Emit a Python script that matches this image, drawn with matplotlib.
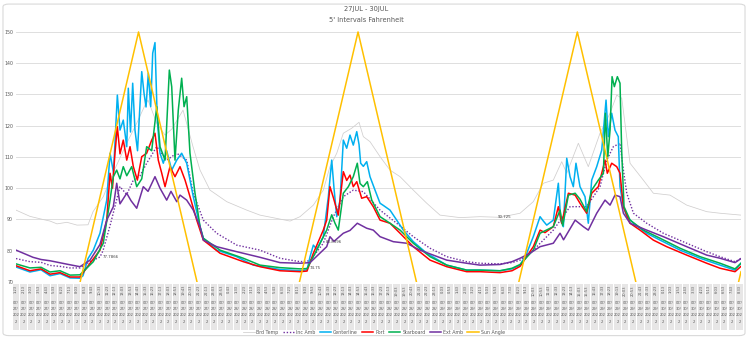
import matplotlib
matplotlib.use("Agg")
import matplotlib.pyplot as plt
import matplotlib.transforms as mtransforms
from matplotlib.patches import Rectangle, FancyBboxPatch
from datetime import datetime, timedelta

# hours since 27/07/2022 01:23 (5' logging)
brd_t = [0.00, 1.53, 2.95, 3.72, 4.49, 5.58, 6.68, 7.88, 8.43, 9.55, 10.62, 12.12, 13.21, 14.12, 14.45,
         15.40, 16.31, 17.07, 18.28, 19.37, 20.14, 21.23, 23.06, 25.25, 26.70, 29.99, 31.08, 32.54,
         33.63, 34.36, 35.10, 35.82, 36.74, 37.54, 38.01, 38.74, 39.84, 40.93, 42.03, 43.48, 44.95,
         46.40, 48.59, 50.78, 52.97, 55.16, 56.61, 57.71, 58.80, 59.72, 60.27, 61.54, 62.63, 63.91,
         65.01, 65.74, 66.29, 67.20, 68.65, 69.75, 71.57, 73.40, 75.59, 77.05, 79.34]
brd_v = [93.0, 91.0, 90.0, 89.5, 88.6, 89.1, 88.2, 88.3, 92.5, 97.3, 104.9, 114.4, 120.8, 126.6, 128.2,
         120.8, 117.0, 119.0, 125.0, 113.3, 105.8, 99.4, 95.7, 93.0, 91.4, 89.5, 90.9, 94.6,
         99.4, 106.9, 111.2, 117.6, 119.2, 121.1, 116.5, 114.9, 110.1, 105.8, 103.7, 99.4, 95.2,
         91.4, 90.6, 90.9, 90.7, 92.0, 95.7, 101.6, 102.6, 108.5, 104.8, 114.4, 106.9, 117.6,
         124.0, 129.8, 128.8, 108.0, 102.6, 98.4, 97.8, 94.6, 92.5, 92.0, 91.4]

inc_t = [0.00, 1.53, 2.74, 3.72, 4.82, 5.91, 7.00, 8.10, 9.19, 9.52, 10.29, 11.38, 12.12, 12.84, 13.57,
         14.30, 15.40, 16.49, 17.59, 18.68, 19.40, 20.50, 21.96, 24.15, 26.70, 28.89, 31.08, 32.18,
         33.63, 34.73, 35.82, 36.91, 38.01, 39.84, 41.66, 43.48, 45.31, 47.14, 49.32, 50.78, 52.97,
         54.28, 55.16, 56.61, 58.80, 60.63, 62.45, 63.91, 64.65, 65.37, 66.10, 66.47, 66.84, 67.57,
         69.02, 70.84, 73.40, 75.59, 77.05, 78.69, 79.34]
inc_v = [77.5, 76.5, 76.3, 75.3, 75.0, 74.5, 74.5, 76.5, 78.0, 80.0, 88.0, 100.5, 98.0, 102.6, 104.0,
         108.0, 113.3, 109.0, 111.2, 109.0, 98.4, 89.8, 85.6, 81.8, 80.2, 77.6, 76.5, 76.8,
         82.4, 90.9, 97.3, 99.4, 98.9, 93.0, 88.8, 84.5, 80.8, 78.1, 76.5, 76.0, 75.8,
         76.2, 77.0, 80.2, 86.6, 94.1, 94.1, 100.5, 109.0, 113.3, 114.4, 105.8, 98.4, 92.0,
         88.8, 85.6, 82.4, 79.7, 78.1, 76.5, 77.5]

cl_t = [0.00, 1.53, 2.74, 3.72, 4.82, 5.91, 7.00, 7.33, 7.88, 8.46, 9.19, 9.93, 10.29, 10.67, 11.09,
        11.38, 11.74, 12.12, 12.29, 12.53, 12.77, 13.02, 13.30, 13.76, 14.01, 14.23, 14.48, 14.74,
        14.96, 15.21, 15.46, 15.76, 16.12, 16.49, 17.04, 17.59, 18.13, 18.68, 19.40, 20.14, 20.50,
        21.96, 24.15, 25.97, 28.89, 31.08, 31.85, 32.18, 32.54, 32.91, 33.63, 34.18, 34.55, 34.80,
        35.10, 35.46, 35.82, 36.19, 36.55, 36.91, 37.29, 37.54, 37.72, 38.01, 38.38, 38.74, 39.29,
        39.84, 40.20, 40.93, 41.66, 42.39, 43.48, 44.95, 47.14, 49.32, 50.78, 52.97, 54.28, 55.16,
        55.89, 56.61, 57.35, 57.71, 58.08, 58.80, 59.35, 59.61, 59.90, 60.27, 60.63, 60.99, 61.28,
        61.72, 62.27, 62.63, 63.00, 63.55, 64.10, 64.57, 64.82, 65.19, 65.55, 65.91, 66.10, 66.47,
        66.84, 67.57, 69.02, 70.48, 72.67, 74.86, 77.05, 78.69, 79.34]
cl_v = [74.8, 73.2, 73.9, 72.0, 72.7, 71.3, 71.2, 72.0, 77.5, 80.2, 85.6, 96.2, 111.2, 105.0, 129.8,
        118.6, 121.8, 113.3, 132.0, 118.0, 133.6, 118.6, 112.0, 137.3, 130.4, 126.0, 136.8, 126.1,
        143.2, 146.6, 121.8, 111.2, 108.0, 112.0, 105.8, 109.0, 111.2, 108.0, 97.3, 87.7, 84.0,
        80.2, 78.1, 75.4, 74.0, 73.6, 73.9, 78.1, 81.8, 80.5, 84.5, 97.3, 109.0, 100.0,
        90.9, 96.2, 115.4, 112.8, 117.0, 113.8, 118.1, 114.0, 108.0, 107.0, 108.5, 103.7, 99.4,
        95.2, 94.5, 93.0, 89.8, 86.6, 82.9, 79.2, 75.4, 73.8, 73.8, 73.6, 74.2, 75.4,
        79.2, 84.5, 90.9, 89.5, 88.2, 89.8, 101.6, 89.8, 87.7, 109.6, 103.7, 100.5, 108.0,
        100.5, 97.3, 88.8, 102.6, 106.9, 112.2, 128.2, 116.5, 124.0, 118.6, 116.5, 100.5, 94.1,
        90.9, 88.8, 85.6, 83.4, 80.2, 77.6, 75.4, 73.8, 76.0]

port_t = [0.00, 1.53, 2.74, 3.72, 4.82, 5.91, 7.00, 8.10, 9.19, 9.93, 10.29, 10.56, 10.83, 11.09, 11.38,
          11.74, 12.12, 12.48, 12.84, 13.28, 13.76, 14.30, 14.85, 15.21, 15.57, 15.95, 16.31, 16.85,
          17.40, 17.95, 18.50, 19.04, 19.78, 20.50, 22.33, 24.88, 26.70, 28.89, 31.08, 31.85, 32.54,
          33.63, 34.00, 34.36, 34.73, 35.27, 35.82, 36.19, 36.55, 36.91, 37.29, 37.83, 38.38, 39.10,
          39.84, 40.93, 42.03, 43.48, 45.31, 47.14, 49.32, 50.78, 52.97, 54.28, 55.16, 56.61, 57.35,
          57.89, 58.80, 59.35, 59.72, 60.45, 61.19, 61.72, 62.45, 63.00, 63.73, 64.46, 64.71, 65.19,
          65.74, 66.10, 66.47, 67.20, 68.29, 69.75, 71.21, 73.40, 75.59, 77.05, 78.69, 79.34]
port_v = [75.2, 73.6, 74.2, 72.5, 73.0, 71.6, 71.6, 76.0, 80.2, 89.8, 104.8, 100.0, 111.2, 119.7, 111.0,
          115.4, 109.0, 113.3, 106.9, 102.6, 110.1, 111.2, 115.4, 117.6, 109.0, 104.8, 100.5, 106.9,
          103.7, 106.9, 102.6, 97.3, 89.8, 83.4, 79.2, 76.5, 74.9, 73.6, 73.3, 73.5, 79.2,
          86.6, 89.8, 100.5, 97.0, 91.4, 105.3, 102.5, 104.2, 100.5, 102.1, 96.8, 97.3, 94.1,
          89.8, 88.8, 85.6, 81.3, 77.0, 74.9, 73.3, 73.3, 73.0, 73.6, 75.0, 81.3, 86.6,
          85.8, 87.7, 94.1, 88.8, 98.4, 97.8, 95.2, 92.0, 98.4, 100.5, 109.0, 104.8, 108.0,
          106.9, 104.8, 94.1, 88.8, 86.6, 83.4, 81.3, 78.6, 76.0, 74.4, 73.3, 75.0]

stbd_t = [0.00, 1.53, 2.74, 3.72, 4.82, 5.91, 7.00, 8.46, 9.55, 10.29, 10.65, 11.02, 11.38, 11.74, 12.12,
          12.66, 13.21, 13.76, 14.30, 14.85, 15.40, 15.76, 16.31, 16.78, 17.04, 17.40, 17.76, 18.13,
          18.39, 18.68, 19.04, 19.59, 20.14, 20.50, 22.33, 24.88, 26.70, 28.89, 31.08, 31.85, 32.91,
          34.00, 34.55, 34.91, 35.27, 35.82, 36.37, 36.91, 37.35, 37.65, 38.01, 38.45, 38.93, 39.84,
          40.93, 42.03, 43.48, 45.31, 47.14, 49.32, 50.78, 52.97, 54.28, 55.16, 56.61, 57.35, 58.80,
          59.54, 59.83, 60.45, 61.19, 61.72, 62.45, 63.00, 63.73, 64.28, 64.50, 64.76, 65.01, 65.23,
          65.48, 65.81, 66.10, 66.29, 66.54, 67.20, 68.65, 70.48, 72.67, 74.86, 77.05, 78.69, 79.34]
stbd_v = [75.8, 74.5, 74.7, 73.2, 73.6, 72.2, 72.3, 76.5, 82.4, 96.2, 103.7, 105.8, 103.0, 106.9, 104.0,
          106.9, 100.5, 103.0, 113.3, 112.0, 126.1, 113.3, 109.0, 137.8, 132.5, 109.0, 125.0, 135.2,
          126.1, 129.3, 111.2, 98.4, 87.7, 84.0, 80.2, 77.6, 75.4, 74.6, 74.2, 74.3, 80.2,
          86.6, 91.5, 88.8, 86.6, 98.4, 100.5, 103.7, 108.0, 101.5, 100.5, 102.1, 96.2, 90.9,
          88.8, 86.6, 82.4, 78.1, 75.4, 73.8, 73.8, 73.6, 74.4, 75.6, 80.2, 85.6, 87.7,
          93.0, 88.0, 97.8, 98.4, 96.5, 92.5, 99.4, 102.6, 104.8, 124.0, 110.0, 118.6, 135.7,
          132.5, 135.7, 133.6, 111.2, 94.1, 89.8, 86.6, 84.0, 80.8, 78.1, 76.0, 74.2, 76.0]

ext_t = [0.00, 1.86, 2.74, 3.72, 5.58, 7.00, 8.10, 9.19, 9.93, 10.65, 11.02, 11.38, 12.12, 12.59, 13.21,
         13.93, 14.45, 15.21, 15.76, 16.49, 16.96, 17.59, 17.95, 18.68, 19.40, 20.14, 20.50, 21.96,
         24.15, 26.70, 28.89, 31.08, 32.18, 34.00, 34.36, 34.80, 35.82, 36.55, 37.35, 38.38, 39.10,
         39.84, 41.29, 42.76, 44.21, 45.67, 47.14, 49.32, 50.78, 52.97, 54.28, 55.16, 56.25, 57.35,
         58.80, 59.54, 59.92, 61.19, 62.09, 62.63, 63.55, 64.46, 65.01, 65.55, 66.10, 66.47, 67.20,
         69.02, 70.84, 73.40, 75.59, 77.05, 78.69, 79.34]
ext_v = [80.2, 77.9, 77.2, 76.8, 75.7, 74.9, 77.0, 82.0, 89.8, 94.1, 101.6, 95.0, 98.4, 96.0, 93.6,
         100.5, 99.0, 103.7, 100.0, 96.2, 99.0, 95.7, 97.8, 96.2, 93.0, 87.7, 83.4, 81.3,
         79.7, 77.9, 76.2, 76.0, 76.2, 81.3, 84.5, 83.0, 85.6, 86.5, 88.8, 87.2, 86.6,
         84.5, 82.9, 82.4, 80.2, 78.6, 77.0, 76.0, 75.4, 75.6, 76.5, 77.6, 79.2, 81.3,
         82.4, 85.6, 83.5, 89.8, 87.7, 86.6, 92.0, 96.2, 94.6, 97.8, 97.3, 92.0, 88.8,
         86.6, 84.5, 81.3, 78.6, 77.6, 76.2, 77.5]

sun_t = [0.00, 1.42, 13.41, 25.41, 37.43, 49.42, 61.43, 73.43, 79.34]
sun_v = [18, 0, 150, 0, 150, 0, 150, 0, 73.3]

start = datetime(2022, 7, 27, 1, 23)
t_end = 79.34

fig = plt.figure(figsize=(7.48, 3.39), dpi=100)
fig.patches.append(FancyBboxPatch((0.004, 0.01), 0.992, 0.978, boxstyle="round,pad=0,rounding_size=0.008",
                                  transform=fig.transFigure, fc="white", ec="#D9D9D9", lw=0.8, zorder=-5))
ax = fig.add_axes([16 / 748, 1 - 282 / 339, 725 / 748, 251.6 / 339])
ax.set_facecolor("none")

ax.plot(brd_t, brd_v, color="#D0CECE", lw=0.55, label="Brd Temp")
ax.plot(inc_t, inc_v, color="#7030A0", lw=1.0, ls=(0, (1, 1.3)), label="Inc Amb")
ax.plot(cl_t, cl_v, color="#00B0F0", lw=1.1, label="Centerline")
ax.plot(port_t, port_v, color="#FF0000", lw=1.1, label="Port")
ax.plot(stbd_t, stbd_v, color="#00B050", lw=1.1, label="Starboard")
ax.plot(ext_t, ext_v, color="#7030A0", lw=1.1, label="Ext Amb")
ax.plot(sun_t, sun_v, color="#FFC000", lw=1.1, label="Sun Angle")

# data labels
lab_kw = dict(fontsize=2.8, color="#404040", textcoords="offset points", va="center")
ax.annotate("77.7866", (inc_t[8], inc_v[8]), xytext=(2, 0), **lab_kw)
ax.annotate("74.75", (cl_t[46], cl_v[46]), xytext=(2, 1), **lab_kw)
ax.annotate("83.8396", (inc_t[28], inc_v[28]), xytext=(2, 1), **lab_kw)
ax.annotate("90.725", (brd_t[44], brd_v[44]), xytext=(-2, 0), **lab_kw)

ax.set_xlim(0, t_end)
ax.set_ylim(70, 150.5)
ax.set_yticks(range(70, 151, 10))
ax.grid(axis="y", color="#D9D9D9", lw=0.6)
ax.set_axisbelow(True)
for s in ax.spines.values():
    s.set_visible(False)
ax.tick_params(axis="y", length=0, labelsize=3.4, labelcolor="#595959", pad=2)
ax.tick_params(axis="x", length=0)
ax.set_xticks([])

# category labels every 10 samples (50 min)
trans = mtransforms.blended_transform_factory(ax.transData, ax.transAxes)
step = 50 / 60
n = int(t_end / step) + 1
cell_h = 46 / 251.6
for i in range(n):
    t = i * step
    ts = start + timedelta(hours=t)
    ax.add_patch(Rectangle((t - 0.36, -0.006 - cell_h), 0.72, cell_h, transform=trans,
                           fc="#E7E6E6", ec="none", clip_on=False))
    ax.text(t, -0.012, f"{ts.hour}:{ts.minute:02d}", transform=trans, rotation=90,
            ha="center", va="top", fontsize=2.6, color="#595959")
    d = ts.strftime("%m/%d/%Y")
    rows = [d[0:3], d[3:6], d[6:9], d[9:]]
    for k, r in enumerate(rows):
        ax.text(t, -0.075 - k * 0.025, r, transform=trans, ha="center", va="top",
                fontsize=2.6, color="#595959")

fig.text(0.49, 1 - 9.5 / 339, "27JUL - 30JUL", ha="center", va="center", fontsize=4.8, color="#595959")
fig.text(0.49, 1 - 19.5 / 339, "5' Intervals Fahrenheit", ha="center", va="center", fontsize=4.8,
         color="#595959")

leg = ax.legend(loc="center", bbox_to_anchor=(374 / 748, 1 - 332.5 / 339), bbox_transform=fig.transFigure,
                ncol=7, frameon=False, fontsize=3.4, handlelength=2.4, columnspacing=0.9,
                handletextpad=0.4, borderpad=0)
for txt in leg.get_texts():
    txt.set_color("#595959")

fig.savefig("out.png", dpi=100)
